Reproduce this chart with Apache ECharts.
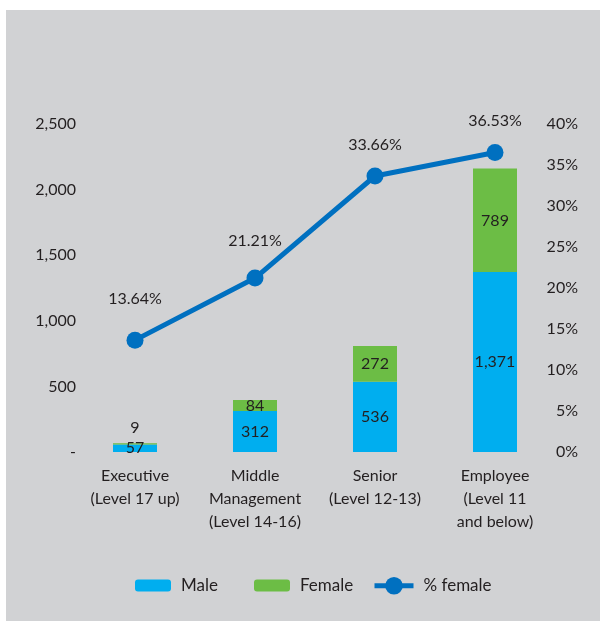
<!DOCTYPE html>
<html>
<head>
<meta charset="utf-8">
<script src="https://cdn.jsdelivr.net/npm/echarts@6/dist/echarts.min.js"></script>
<style>
  html, body { margin: 0; padding: 0; background: #ffffff; }
  #chart { width: 600px; height: 621px; }
</style>
</head>
<body>
<div id="chart"></div>
<script>
// Headcount by job level, split by gender, with the share of women per level
const categories = [
  'Executive\n(Level 17 up)',
  'Middle\nManagement\n(Level 14-16)',
  'Senior\n(Level 12-13)',
  'Employee\n(Level 11\nand below)'
];
const male = [57, 312, 536, 1371];
const female = [9, 84, 272, 789];
const pctFemale = [13.64, 21.21, 33.66, 36.53];
const countTicks = [0, 500, 1000, 1500, 2000, 2500];
const pctTicks = [0, 5, 10, 15, 20, 25, 30, 35, 40];

// extra lift of each percentage label above its marker
const pctLabelLift = [25, 21, 15, 15];

const FONT = 'Lato';
const INK = '#231f20';
const BLUE = '#00aeef';
const GREEN = '#6cbd45';
const LINE = '#0070c0';

const chart = echarts.init(document.getElementById('chart'));

const fmtCount = v => v === 0 ? '-' : v.toLocaleString('en-US');

const legendBase = {
  orient: 'horizontal',
  padding: 0,
  textStyle: { fontFamily: FONT, fontSize: 17, color: INK, padding: [0, 0, 0, 5] }
};

chart.setOption({
  backgroundColor: '#ffffff',
  animation: false,
  graphic: [{
    type: 'rect',
    left: 6, top: 10,
    shape: { width: 594, height: 611 },
    style: { fill: '#d1d2d4' },
    z: -10
  }],
  textStyle: { fontFamily: FONT, color: INK },
  grid: { left: 75, right: 45, top: 124, bottom: 169 },
  legend: [
    Object.assign({}, legendBase, {
      left: 135, top: 577, itemWidth: 36, itemHeight: 12, data: ['Male']
    }),
    Object.assign({}, legendBase, {
      left: 254, top: 577, itemWidth: 36, itemHeight: 12, data: ['Female']
    }),
    Object.assign({}, legendBase, {
      left: 372, top: 577, itemWidth: 39, itemHeight: 22, data: ['% female'],
      lineStyle: { width: 5 }
    })
  ],
  xAxis: {
    type: 'category',
    data: categories,
    axisLine: { show: false },
    axisTick: { show: false },
    axisLabel: {
      fontFamily: FONT, fontSize: 16, color: INK,
      lineHeight: 23, margin: 12, interval: 0
    }
  },
  yAxis: [
    {
      type: 'value',
      min: countTicks[0],
      max: countTicks[countTicks.length - 1],
      interval: countTicks[1] - countTicks[0],
      splitLine: { show: false },
      axisLine: { show: false },
      axisTick: { show: false },
      axisLabel: {
        fontFamily: FONT, fontSize: 16, color: INK, margin: -1,
        formatter: fmtCount
      }
    },
    {
      type: 'value',
      position: 'right',
      min: pctTicks[0],
      max: pctTicks[pctTicks.length - 1],
      interval: pctTicks[1] - pctTicks[0],
      splitLine: { show: false },
      axisLine: { show: false },
      axisTick: { show: false },
      axisLabel: {
        fontFamily: FONT, fontSize: 16, color: INK, margin: 23, align: 'right',
        formatter: v => v + '%'
      }
    }
  ],
  series: [
    {
      name: 'Male',
      type: 'bar',
      stack: 'staff',
      barWidth: 44,
      itemStyle: { color: BLUE },
      label: {
        show: true, position: 'inside',
        fontFamily: FONT, fontSize: 16, color: INK,
        formatter: p => fmtCount(p.value)
      },
      data: male
    },
    {
      name: 'Female',
      type: 'bar',
      stack: 'staff',
      barWidth: 44,
      itemStyle: { color: GREEN },
      label: {
        show: true, position: 'inside',
        fontFamily: FONT, fontSize: 16, color: INK,
        formatter: p => fmtCount(p.value)
      },
      // values too small to hold their label get it placed above the bar
      data: female.map(v => v < 40
        ? { value: v, label: { position: 'top', distance: 7 } }
        : v)
    },
    {
      name: '% female',
      type: 'line',
      yAxisIndex: 1,
      symbol: 'circle',
      symbolSize: 17,
      itemStyle: { color: LINE },
      lineStyle: { color: LINE, width: 5 },
      z: 5,
      label: {
        show: true, position: 'top',
        fontFamily: FONT, fontSize: 16, color: INK,
        formatter: p => p.value.toFixed(2) + '%'
      },
      data: pctFemale.map((v, i) => ({ value: v, label: { distance: pctLabelLift[i] } }))
    }
  ]
});
</script>
</body>
</html>
